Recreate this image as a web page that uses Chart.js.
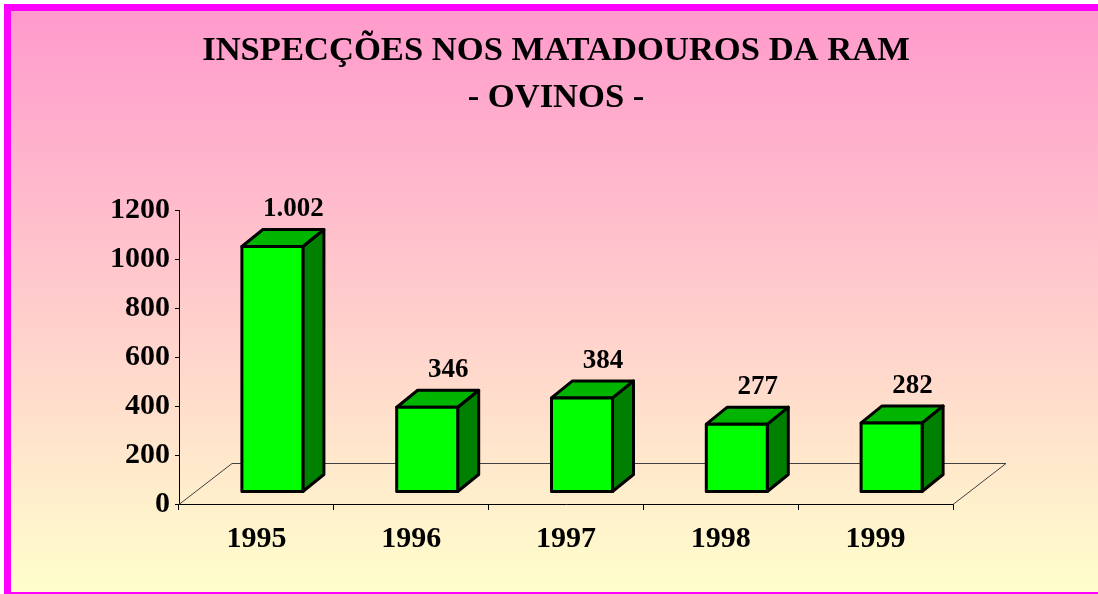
<!DOCTYPE html>
<html>
<head>
<meta charset="utf-8">
<script src="https://cdn.jsdelivr.net/npm/chart.js@4.4.1/dist/chart.umd.min.js"></script>
<style>
  html, body { margin: 0; padding: 0; overflow: hidden; background: #fff; }
  canvas { display: block; }
</style>
</head>
<body>
<canvas id="chart" width="1098" height="594"></canvas>
<script>
// ---- data ----
const TITLE_LINES = ["INSPECÇÕES NOS MATADOUROS DA RAM", "- OVINOS -"];
const YEARS = ["1995", "1996", "1997", "1998", "1999"];
const OVINOS = [1002, 346, 384, 277, 282];
const Y_MIN = 0;
const Y_MAX = 1200;
const Y_STEP = 200;

// ---- 3D look ----
const FLOOR_DX = 53, FLOOR_DY = -41;   // floor depth
const BAR_DX = 21, BAR_DY = -17;       // box depth
const FRONT = "#00ff00", TOP = "#00b400", SIDE = "#008000";
const FONT = "'Liberation Serif', 'Times New Roman', serif";

// 1002 -> "1.002"
function fmtPt(v) {
  return String(v).replace(/\B(?=(\d{3})+(?!\d))/g, ".");
}

// background gradient + magenta frame + title
const framePlugin = {
  id: "frame",
  beforeDraw(chart) {
    const { ctx, width, height } = chart;
    ctx.save();
    ctx.fillStyle = "#ffffff";
    ctx.fillRect(0, 0, width, height);
    const g = ctx.createLinearGradient(0, 4, 0, height);
    g.addColorStop(0, "#ff99cc");
    g.addColorStop(1, "#ffffcc");
    ctx.fillStyle = g;
    ctx.fillRect(4, 4, width, height);
    ctx.strokeStyle = "#ff00ff";
    ctx.lineWidth = 7;
    ctx.strokeRect(7.5, 7.5, width + 20, 588);
    // title
    ctx.fillStyle = "#000";
    ctx.font = "bold 34.6px " + FONT;
    ctx.textAlign = "center";
    ctx.textBaseline = "middle";
    ctx.fillText(TITLE_LINES[0], 556, 51);
    ctx.fillText(TITLE_LINES[1], 556, 98);
    ctx.restore();
  }
};

// floor parallelogram behind the bars
const floorPlugin = {
  id: "floor",
  beforeDatasetsDraw(chart) {
    const { ctx, chartArea: a } = chart;
    ctx.save();
    ctx.strokeStyle = "#404040";
    ctx.lineWidth = 1;
    ctx.beginPath();
    ctx.moveTo(a.left, a.bottom + 0.5);
    ctx.lineTo(a.left + FLOOR_DX, a.bottom + FLOOR_DY + 0.5);
    ctx.lineTo(a.right + FLOOR_DX, a.bottom + FLOOR_DY + 0.5);
    ctx.lineTo(a.right, a.bottom + 0.5);
    ctx.stroke();
    ctx.restore();
  }
};

// boxes drawn from the bar elements, plus value labels
const boxPlugin = {
  id: "boxes",
  afterDatasetsDraw(chart) {
    const { ctx } = chart;
    const meta = chart.getDatasetMeta(0);
    const ox = (FLOOR_DX - BAR_DX) / 2;
    const oy = (FLOOR_DY - BAR_DY) / 2;
    ctx.save();
    ctx.lineWidth = 3;
    ctx.lineJoin = "round";
    ctx.strokeStyle = "#000";
    meta.data.forEach((bar, i) => {
      const p = bar.getProps(["x", "y", "base", "width"], true);
      const l = p.x - p.width / 2 + ox;
      const r = p.x + p.width / 2 + ox;
      const t = p.y + oy;
      const b = p.base + oy;
      // side
      ctx.beginPath();
      ctx.moveTo(r, t);
      ctx.lineTo(r + BAR_DX, t + BAR_DY);
      ctx.lineTo(r + BAR_DX, b + BAR_DY);
      ctx.lineTo(r, b);
      ctx.closePath();
      ctx.fillStyle = SIDE;
      ctx.fill();
      ctx.stroke();
      // top
      ctx.beginPath();
      ctx.moveTo(l, t);
      ctx.lineTo(l + BAR_DX, t + BAR_DY);
      ctx.lineTo(r + BAR_DX, t + BAR_DY);
      ctx.lineTo(r, t);
      ctx.closePath();
      ctx.fillStyle = TOP;
      ctx.fill();
      ctx.stroke();
      // front
      ctx.beginPath();
      ctx.rect(l, t, r - l, b - t);
      ctx.fillStyle = FRONT;
      ctx.fill();
      ctx.stroke();
      // value label
      ctx.fillStyle = "#000";
      ctx.font = "bold 27px " + FONT;
      ctx.textAlign = "center";
      ctx.textBaseline = "middle";
      ctx.fillText(fmtPt(OVINOS[i]), (l + r) / 2 + BAR_DX, t + BAR_DY - 20);
    });
    ctx.restore();
  }
};

new Chart(document.getElementById("chart"), {
  type: "bar",
  data: {
    labels: YEARS,
    datasets: [{
      data: OVINOS,
      backgroundColor: "rgba(0,0,0,0)",
      borderWidth: 0,
      categoryPercentage: 1,
      barPercentage: 0.394
    }]
  },
  options: {
    responsive: false,
    animation: false,
    events: [],
    layout: { padding: { left: 0, right: 145, top: 210, bottom: 0 } },
    plugins: {
      legend: { display: false },
      tooltip: { enabled: false },
      title: { display: false }
    },
    scales: {
      x: {
        grid: { display: true, drawOnChartArea: false, drawTicks: true, tickLength: 6, color: "#000", offset: true },
        border: { display: true, color: "#000", width: 1 },
        ticks: { color: "#000", padding: 11, font: { family: FONT, size: 30, weight: "bold" } },
        afterFit(scale) { scale.height = 90; }
      },
      y: {
        min: Y_MIN,
        max: Y_MAX,
        grid: { display: true, drawOnChartArea: false, drawTicks: true, tickLength: 4, color: "#000" },
        border: { display: true, color: "#000", width: 1 },
        ticks: {
          stepSize: Y_STEP, color: "#000", padding: 5,
          font: { family: FONT, size: 30, weight: "bold" },
          callback: v => String(v)
        },
        afterFit(scale) { scale.width = 179; }
      }
    }
  },
  plugins: [framePlugin, floorPlugin, boxPlugin]
});
</script>
</body>
</html>
